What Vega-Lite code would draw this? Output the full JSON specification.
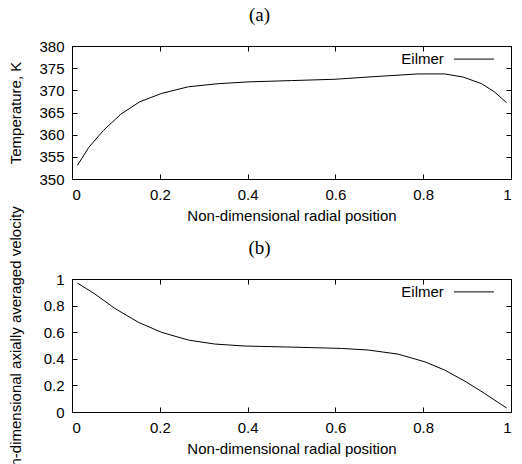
{
  "$schema": "https://vega.github.io/schema/vega-lite/v6.json",
  "padding": {"left": 7, "top": 5, "right": 0, "bottom": 0},
  "background": "white",
  "datasets": {
    "temperature": [
      {"r": 0.0125, "T": 353.1, "series": "Eilmer"},
      {"r": 0.038, "T": 357.1, "series": "Eilmer"},
      {"r": 0.072, "T": 361.0, "series": "Eilmer"},
      {"r": 0.111, "T": 364.6, "series": "Eilmer"},
      {"r": 0.154, "T": 367.4, "series": "Eilmer"},
      {"r": 0.204, "T": 369.3, "series": "Eilmer"},
      {"r": 0.265, "T": 370.8, "series": "Eilmer"},
      {"r": 0.333, "T": 371.5, "series": "Eilmer"},
      {"r": 0.401, "T": 371.9, "series": "Eilmer"},
      {"r": 0.5, "T": 372.2, "series": "Eilmer"},
      {"r": 0.599, "T": 372.5, "series": "Eilmer"},
      {"r": 0.69, "T": 373.1, "series": "Eilmer"},
      {"r": 0.789, "T": 373.7, "series": "Eilmer"},
      {"r": 0.849, "T": 373.7, "series": "Eilmer"},
      {"r": 0.891, "T": 373.0, "series": "Eilmer"},
      {"r": 0.933, "T": 371.5, "series": "Eilmer"},
      {"r": 0.963, "T": 369.6, "series": "Eilmer"},
      {"r": 0.99, "T": 367.2, "series": "Eilmer"}
    ],
    "velocity": [
      {"r": 0.0125, "u": 0.969, "series": "Eilmer"},
      {"r": 0.052, "u": 0.888, "series": "Eilmer"},
      {"r": 0.097, "u": 0.780, "series": "Eilmer"},
      {"r": 0.151, "u": 0.675, "series": "Eilmer"},
      {"r": 0.204, "u": 0.599, "series": "Eilmer"},
      {"r": 0.265, "u": 0.541, "series": "Eilmer"},
      {"r": 0.325, "u": 0.511, "series": "Eilmer"},
      {"r": 0.394, "u": 0.496, "series": "Eilmer"},
      {"r": 0.5, "u": 0.488, "series": "Eilmer"},
      {"r": 0.614, "u": 0.478, "series": "Eilmer"},
      {"r": 0.675, "u": 0.466, "series": "Eilmer"},
      {"r": 0.743, "u": 0.435, "series": "Eilmer"},
      {"r": 0.804, "u": 0.377, "series": "Eilmer"},
      {"r": 0.849, "u": 0.315, "series": "Eilmer"},
      {"r": 0.895, "u": 0.232, "series": "Eilmer"},
      {"r": 0.940, "u": 0.139, "series": "Eilmer"},
      {"r": 0.99, "u": 0.030, "series": "Eilmer"}
    ],
    "key": [{"series": "Eilmer"}]
  },
  "config": {
    "font": "Liberation Sans",
    "view": {"stroke": "black", "strokeWidth": 1},
    "axis": {
      "domain": false, "ticks": false, "grid": true,
      "gridColor": "black", "gridOpacity": 1, "gridWidth": 1,
      "labelFont": "Liberation Sans", "labelFontSize": 15, "labelColor": "black",
      "titleFont": "Liberation Sans", "titleFontSize": 15, "titleFontWeight": "normal", "titleColor": "black",
      "labelPadding": 8
    },
    "axisX": {"gridDash": [5, 123], "titlePadding": 6},
    "axisY": {"gridDash": [5, 429]},
    "title": {"font": "Liberation Serif", "fontSize": 19, "fontWeight": "normal", "color": "black", "frame": "bounds", "anchor": "middle"}
  },
  "bounds": "flush",
  "spacing": 100,
  "vconcat": [
    {
      "title": {"text": "(a)", "offset": 14},
      "width": 439,
      "height": 133,
      "layer": [
        {
          "data": {"name": "temperature"},
          "mark": {"type": "line", "strokeWidth": 1, "color": "black", "clip": true},
          "encoding": {
            "x": {"field": "r", "type": "quantitative", "scale": {"domain": [0, 1], "nice": false},
                  "axis": {"values": [0, 0.2, 0.4, 0.6, 0.8, 1], "format": "~g", "title": "Non-dimensional radial position"}},
            "y": {"field": "T", "type": "quantitative", "scale": {"domain": [350, 380], "nice": false, "zero": false},
                  "axis": {"values": [350, 355, 360, 365, 370, 375, 380], "format": "~g", "title": "Temperature, K", "titleX": -49}},
            "detail": {"field": "series", "type": "nominal"}
          }
        },
        {
          "data": {"name": "key"},
          "mark": {"type": "rule", "strokeWidth": 1, "color": "black"},
          "encoding": {
            "x": {"datum": 0.870, "type": "quantitative", "axis": {"values": [0, 0.2, 0.4, 0.6, 0.8, 1], "format": "~g", "title": "Non-dimensional radial position"}},
            "x2": {"datum": 0.961},
            "y": {"datum": 377.05, "type": "quantitative", "axis": {"values": [350, 355, 360, 365, 370, 375, 380], "format": "~g", "title": "Temperature, K", "titleX": -49}}
          }
        },
        {
          "data": {"name": "key"},
          "mark": {"type": "text", "align": "right", "baseline": "middle", "font": "Liberation Sans", "fontSize": 15, "color": "black"},
          "encoding": {
            "text": {"field": "series", "type": "nominal"},
            "x": {"datum": 0.847, "type": "quantitative", "axis": {"values": [0, 0.2, 0.4, 0.6, 0.8, 1], "format": "~g", "title": "Non-dimensional radial position"}},
            "y": {"datum": 377.05, "type": "quantitative", "axis": {"values": [350, 355, 360, 365, 370, 375, 380], "format": "~g", "title": "Temperature, K", "titleX": -49}}
          }
        }
      ]
    },
    {
      "title": {"text": "(b)", "offset": -52},
      "width": 439,
      "height": 133,
      "layer": [
        {
          "data": {"name": "velocity"},
          "mark": {"type": "line", "strokeWidth": 1, "color": "black", "clip": true},
          "encoding": {
            "x": {"field": "r", "type": "quantitative", "scale": {"domain": [0, 1], "nice": false},
                  "axis": {"values": [0, 0.2, 0.4, 0.6, 0.8, 1], "format": "~g", "title": "Non-dimensional radial position"}},
            "y": {"field": "u", "type": "quantitative", "scale": {"domain": [0, 1], "nice": false},
                  "axis": {"values": [0, 0.2, 0.4, 0.6, 0.8, 1], "format": "~g", "title": "Non-dimensional axially averaged velocity", "titleX": -49}},
            "detail": {"field": "series", "type": "nominal"}
          }
        },
        {
          "data": {"name": "key"},
          "mark": {"type": "rule", "strokeWidth": 1, "color": "black"},
          "encoding": {
            "x": {"datum": 0.870, "type": "quantitative", "axis": {"values": [0, 0.2, 0.4, 0.6, 0.8, 1], "format": "~g", "title": "Non-dimensional radial position"}},
            "x2": {"datum": 0.961},
            "y": {"datum": 0.903, "type": "quantitative", "axis": {"values": [0, 0.2, 0.4, 0.6, 0.8, 1], "format": "~g", "title": "Non-dimensional axially averaged velocity", "titleX": -49}}
          }
        },
        {
          "data": {"name": "key"},
          "mark": {"type": "text", "align": "right", "baseline": "middle", "font": "Liberation Sans", "fontSize": 15, "color": "black"},
          "encoding": {
            "text": {"field": "series", "type": "nominal"},
            "x": {"datum": 0.847, "type": "quantitative", "axis": {"values": [0, 0.2, 0.4, 0.6, 0.8, 1], "format": "~g", "title": "Non-dimensional radial position"}},
            "y": {"datum": 0.903, "type": "quantitative", "axis": {"values": [0, 0.2, 0.4, 0.6, 0.8, 1], "format": "~g", "title": "Non-dimensional axially averaged velocity", "titleX": -49}}
          }
        }
      ]
    }
  ]
}
